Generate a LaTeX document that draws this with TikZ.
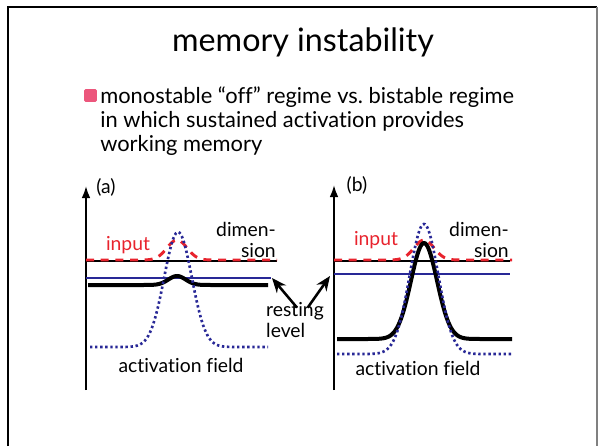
\documentclass[tikz,border=0pt]{standalone}
\usepackage{fontspec}
\setmainfont{Lato}[Ligatures={NoCommon}]
\usetikzlibrary{arrows.meta}
\definecolor{fieldblue}{RGB}{40,40,150}
\definecolor{inputred}{RGB}{232,35,45}
\definecolor{bulletpink}{RGB}{236,86,124}

\begin{document}
\begin{tikzpicture}[x=0.75pt,y=0.75pt,yscale=-1,xscale=1,
    axisline/.style={line width=1.4pt},
    axisarrow/.style={line width=1.4pt,-{Latex[length=9pt,width=6.5pt]}},
    inputline/.style={color=inputred,line width=2.2pt,dash pattern=on 6pt off 5pt},
    restline/.style={color=fieldblue,line width=1.9pt},
    fieldline/.style={line width=3pt},
    dotline/.style={color=fieldblue,line width=2pt,dash pattern=on 1.8pt off 2pt},
    lbl/.style={font=\fontsize{14.5}{15.5}\selectfont,inner sep=0pt},
    restarrow/.style={line width=1.9pt,-{Stealth[length=11pt,width=9pt]}}]
    \useasboundingbox (0,0) rectangle (602,446);
    % slide frame
    \draw [line width=1pt] (8,446) -- (8,7) -- (597,7);
    \draw [color=gray,line width=1pt] (597,7) -- (597,446);
    % title and bullet
    \node (title) at (303,42) [font=\fontsize{24.2}{27}\selectfont] {memory instability};
    \node (bullet) at (90.5,95.5) [fill=bulletpink,inner sep=0pt,minimum size=9.5pt,rounded corners=1pt] {};
    \node (point) at (100,87) [anchor=north west,align=left,inner sep=0pt,font=\fontsize{16.4}{18}\selectfont] {monostable “off” regime vs.\ bistable regime\\in which sustained activation provides\\working memory};
    % panel (a)
    \draw [axisarrow] (86,390) -- (86,186);
    \draw [axisline] (86,261) -- (277,261);
    \draw [inputline] plot[domain=86:277,samples=120] (\x,{260-20*exp(-((\x-177)^2)/200)});
    \draw [restline] (86,278) -- (271,278);
    \draw [fieldline] plot[domain=88:268,samples=120] (\x,{285-9*exp(-((\x-177)^2)/150)});
    \draw [dotline] plot[domain=90:268,samples=150] (\x,{347-115*exp(-((\x-178)^2)/380)});
    \node (labA) at (106,187) [lbl] {(a)};
    \node (inputA) at (128,245) [lbl,color=inputred] {input};
    \node (dimA) at (246,240) [lbl,align=right] {dimen-\\sion};
    \node (actA) at (181,365) [lbl] {activation field};
    % panel (b)
    \draw [axisarrow] (334,390) -- (334,185);
    \draw [axisline] (334,261) -- (510,261);
    \draw [inputline] plot[domain=334:512,samples=120] (\x,{260-20*exp(-((\x-424)^2)/200)});
    \draw [restline] (334,274) -- (510,274);
    \draw [fieldline] plot[domain=337:512,samples=150] (\x,{339-96*exp(-((\x-424)^2)/340)});
    \draw [dotline] plot[domain=337:512,samples=150] (\x,{354-130*exp(-((\x-424)^2)/410)});
    \node (labB) at (357,185) [lbl] {(b)};
    \node (inputB) at (376,240) [lbl,color=inputred] {input};
    \node (dimB) at (479,240) [lbl,align=right] {dimen-\\sion};
    \node (actB) at (418,368) [lbl] {activation field};
    % resting level
    \node (rest) at (295,320) [lbl,align=left] {resting\\level};
    \coordinate (restA) at (272,278);
    \coordinate (restB) at (330,276);
    \draw [restarrow] ([xshift=1.5pt,yshift=4pt]rest.north) -- (restA);
    \draw [restarrow] ([xshift=9.5pt,yshift=4pt]rest.north) -- (restB);
\end{tikzpicture}
\end{document}
